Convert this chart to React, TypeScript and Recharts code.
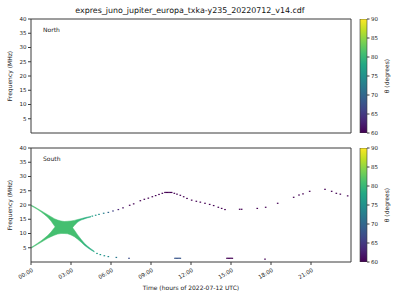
import React from 'react';
import { ComposedChart, Area, Scatter, Bar, XAxis, YAxis, ReferenceArea } from 'recharts';

const TITLE = 'expres_juno_jupiter_europa_txka-y235_20220712_v14.cdf';
const hourTicks = [0, 3, 6, 9, 12, 15, 18, 21];
const hourLabels = ['00:00', '03:00', '06:00', '09:00', '12:00', '15:00', '18:00', '21:00'];
const freqTicks = [5, 10, 15, 20, 25, 30, 35, 40];
const thetaTicks = [60, 65, 70, 75, 80, 85, 90];
const thetaRange = [60, 90];

// Emission band (hours, MHz)
const bandTimes = [0, 0.25, 0.5, 0.75, 1.0, 1.25, 1.5, 1.75, 2.0, 2.25, 2.5, 2.75, 3.0, 3.25, 3.5, 3.75, 4.0, 4.25, 4.5, 4.75];
const upperHigh = [20.0, 19.4, 18.7, 18.0, 17.3, 16.6, 15.9, 15.2, 14.7, 14.4, 14.2, 14.3, 14.4, 14.6, 14.9, 15.2, 15.5, 15.8, 16.0, null];
const upperLow = [19.7, 19.1, 18.4, 17.6, 16.7, 15.7, 14.4, 12.7, 11.2, 10.4, 10.2, 10.5, 11.4, 12.8, 14.0, 14.7, 15.1, 15.5, 15.8, null];
const lowerLow = [4.8, 5.5, 6.2, 6.9, 7.6, 8.3, 8.9, 9.4, 9.8, 10.0, 10.0, 9.9, 9.5, 8.9, 8.0, 7.0, 5.9, 5.0, 4.2, 3.5];
const lowerHigh = [5.1, 5.8, 6.6, 7.4, 8.3, 9.3, 10.5, 12.0, 13.2, 13.9, 14.0, 13.8, 12.8, 11.2, 9.5, 8.0, 6.6, 5.5, 4.6, 3.8];

// Isolated emission points (hours, MHz, theta degrees)
const dotTimes = [
  4.6, 4.85, 5.1, 5.45, 5.8, 6.15, 6.55, 6.9, 7.4, 7.7, 8.2, 8.5, 8.8, 9.1, 9.35, 9.6, 9.85,
  10.05, 10.15, 10.25, 10.35, 10.45, 10.55, 10.75, 10.95, 11.2, 11.45, 11.7, 12.05, 12.4, 12.7,
  13.05, 13.4, 13.7, 14.05, 14.3, 14.55, 15.65, 15.8, 16.97, 17.6, 18.5, 19.7, 20.1, 20.4, 20.9,
  22.05, 22.55, 22.9, 23.2, 23.75,
  4.95, 5.2, 5.5, 5.8, 6.4, 7.35,
  10.8, 10.9, 11.0, 11.1, 11.2,
  14.7, 14.8, 14.9, 15.0, 15.1,
  17.55,
];
const dotFreqs = [
  16.1, 16.4, 16.7, 17.1, 17.4, 17.9, 18.4, 19.0, 19.9, 20.4, 21.5, 22.0, 22.4, 22.9, 23.3, 23.7, 24.1,
  24.4, 24.4, 24.4, 24.4, 24.4, 24.4, 24.1, 23.8, 23.4, 22.9, 22.3, 21.7, 21.3, 21.0,
  20.6, 20.2, 19.8, 19.2, 18.8, 18.4, 18.5, 18.5, 18.8, 19.2, 20.6, 22.7, 23.5, 23.9, 24.8,
  25.5, 24.8, 24.1, 23.8, 23.2,
  3.0, 2.6, 2.2, 1.9, 1.6, 1.3,
  1.3, 1.3, 1.3, 1.3, 1.3,
  1.3, 1.3, 1.3, 1.3, 1.3,
  1.0,
];
const dotThetas = [
  77, 76, 75, 73, 70, 66, 63, 61, 60, 60, 60, 60, 60, 60, 60, 60, 60,
  60, 60, 60, 60, 60, 60, 60, 60, 60, 60, 60, 60, 60, 60,
  60, 60, 60, 60, 60, 60, 60, 60, 60, 60, 60, 60, 60, 60, 60,
  60, 60, 60, 60, 60,
  77, 76, 75, 74, 72, 67,
  68, 68, 68, 68, 68,
  60, 60, 60, 60, 60,
  60,
];

const bandRows = bandTimes.map((t, i) => ({
  t,
  up: upperHigh[i] == null ? null : [upperLow[i], upperHigh[i]],
  low: lowerLow[i] == null ? null : [lowerLow[i], lowerHigh[i]],
}));
const dotRows = dotTimes.map((t, i) => ({ t, f: dotFreqs[i], theta: dotThetas[i] }));
const cbRows = [{ name: 'cb', range: thetaRange }];

const VIRIDIS = ['#440154', '#482475', '#414487', '#355f8d', '#2a788e', '#21918c', '#22a884', '#44bf70', '#7ad151', '#bddf26', '#fde725'];
function hex(c: string) {
  return [parseInt(c.slice(1, 3), 16), parseInt(c.slice(3, 5), 16), parseInt(c.slice(5, 7), 16)];
}
function viridis(theta: number) {
  let u = (theta - 60) / 30;
  u = Math.max(0, Math.min(1, u));
  const i = Math.min(9, Math.floor(u * 10));
  const f = u * 10 - i;
  const a = hex(VIRIDIS[i]);
  const b = hex(VIRIDIS[i + 1]);
  const m = a.map((v, k) => Math.round(v + (b[k] - v) * f));
  return `rgb(${m[0]},${m[1]},${m[2]})`;
}

const FONT = '"DejaVu Sans", sans-serif';
const AX = '#3a3a3a';

const DotShape = (props: any) => {
  const { cx, cy, payload } = props;
  if (cx == null || cy == null) return <g />;
  const th = payload && payload.theta != null ? payload.theta : 60;
  return <rect x={cx - 0.8} y={cy - 0.6} width={1.6} height={1.2} fill={viridis(th)} />;
};

const XTick = (props: any) => {
  const { x, y, payload } = props;
  const idx = hourTicks.indexOf(payload.value);
  return (
    <g transform={`translate(${x},${y})`}>
      <text x={0} y={0} dy={5} textAnchor="end" transform="rotate(-30)" fontSize={5.5} fill="#222">
        {idx >= 0 ? hourLabels[idx] : ''}
      </text>
    </g>
  );
};

function Panel({ top, bottom, showData, showLabels }: { top: number; bottom: number; showData: boolean; showLabels: boolean }) {
  const xh = showLabels ? 30 : 5;
  return (
    <div style={{ position: 'absolute', left: 0, top: 0 }}>
      <ComposedChart width={400} height={300} margin={{ top, right: 49, bottom: 300 - bottom - xh, left: 6 }} data={bandRows}>
        <defs>
          <linearGradient id="bandUp" x1="0" y1="0" x2="1" y2="0">
            <stop offset="0" stopColor="#44bf70" />
            <stop offset="0.72" stopColor="#44bf70" />
            <stop offset="0.85" stopColor="#2fb47c" />
            <stop offset="1" stopColor="#22a884" />
          </linearGradient>
          <linearGradient id="bandLow" x1="0" y1="0" x2="1" y2="0">
            <stop offset="0" stopColor="#44bf70" />
            <stop offset="0.7" stopColor="#44bf70" />
            <stop offset="0.85" stopColor="#30b37b" />
            <stop offset="1" stopColor="#22a884" />
          </linearGradient>
        </defs>
        <XAxis
          type="number"
          dataKey="t"
          domain={[0, 24]}
          ticks={hourTicks}
          allowDataOverflow
          height={xh}
          axisLine={false}
          tickLine={{ stroke: AX }}
          tickSize={3}
          tick={showLabels ? <XTick /> : false}
          interval={0}
        />
        <YAxis
          type="number"
          domain={[0, 40]}
          ticks={freqTicks}
          allowDataOverflow
          width={25}
          axisLine={false}
          tickLine={{ stroke: AX }}
          tickSize={3}
          tickMargin={1.5}
          tick={{ fontSize: 5.5, fill: '#222' }}
          interval={0}
        />
        {showData && (
          <Area
            type="linear"
            dataKey="up"
            fill="url(#bandUp)"
            fillOpacity={1}
            stroke="url(#bandUp)"
            strokeWidth={0.5}
            isAnimationActive={false}
            dot={false}
            activeDot={false}
          />
        )}
        {showData && (
          <Area
            type="linear"
            dataKey="low"
            fill="url(#bandLow)"
            fillOpacity={1}
            stroke="url(#bandLow)"
            strokeWidth={0.5}
            isAnimationActive={false}
            dot={false}
            activeDot={false}
          />
        )}
        {showData && <Scatter data={dotRows} dataKey="f" shape={DotShape} isAnimationActive={false} />}
        <ReferenceArea x1={0} x2={24} y1={0} y2={40} fill="none" stroke={AX} strokeWidth={1} />
      </ComposedChart>
    </div>
  );
}

function ColorBar({ top, bottom, id }: { top: number; bottom: number; id: string }) {
  return (
    <div style={{ position: 'absolute', left: 0, top: 0 }}>
      <ComposedChart
        width={400}
        height={300}
        margin={{ top, right: 13, bottom: 300 - bottom, left: 360 }}
        data={cbRows}
        barCategoryGap={0}
        barGap={0}
      >
        <defs>
          <linearGradient id={id} x1="0" y1="1" x2="0" y2="0">
            {VIRIDIS.map((c, i) => (
              <stop key={i} offset={i / 10} stopColor={c} />
            ))}
          </linearGradient>
        </defs>
        <XAxis type="category" dataKey="name" hide />
        <YAxis
          orientation="right"
          type="number"
          domain={[60, 90]}
          ticks={thetaTicks}
          allowDataOverflow
          width={20}
          axisLine={false}
          tickLine={{ stroke: AX }}
          tickSize={2.5}
          tickMargin={1.5}
          tick={{ fontSize: 5.5, fill: '#222' }}
          interval={0}
        />
        <Bar dataKey="range" fill={`url(#${id})`} stroke={AX} strokeWidth={0.6} isAnimationActive={false} />
      </ComposedChart>
    </div>
  );
}

export default function App() {
  return (
    <div style={{ position: 'absolute', left: 0, top: 0, width: 400, height: 300, background: '#fff', fontFamily: FONT }}>
      <Panel top={19} bottom={133} showData={false} showLabels={false} />
      <Panel top={148} bottom={262} showData={true} showLabels={true} />
      <ColorBar top={19} bottom={133} id="cbTop" />
      <ColorBar top={148} bottom={262} id="cbBot" />
      <svg width={400} height={300} style={{ position: 'absolute', left: 0, top: 0, pointerEvents: 'none' }} fontFamily={FONT}>
        <text x={190} y={13} textAnchor="middle" fontSize={7.9} fill="#111">{TITLE}</text>
        <text x={43} y={32} fontSize={6} fill="#222">North</text>
        <text x={43} y={161} fontSize={6} fill="#222">South</text>
        <text transform="translate(12,76) rotate(-90)" textAnchor="middle" fontSize={6} fill="#222">Frequency (MHz)</text>
        <text transform="translate(12,205) rotate(-90)" textAnchor="middle" fontSize={6} fill="#222">Frequency (MHz)</text>
        <text x={191} y={290} textAnchor="middle" fontSize={6} fill="#222">Time (hours of 2022-07-12 UTC)</text>
        <text transform="translate(389,76) rotate(-90)" textAnchor="middle" fontSize={6} fill="#222">θ (degrees)</text>
        <text transform="translate(389,205) rotate(-90)" textAnchor="middle" fontSize={6} fill="#222">θ (degrees)</text>
      </svg>
    </div>
  );
}
